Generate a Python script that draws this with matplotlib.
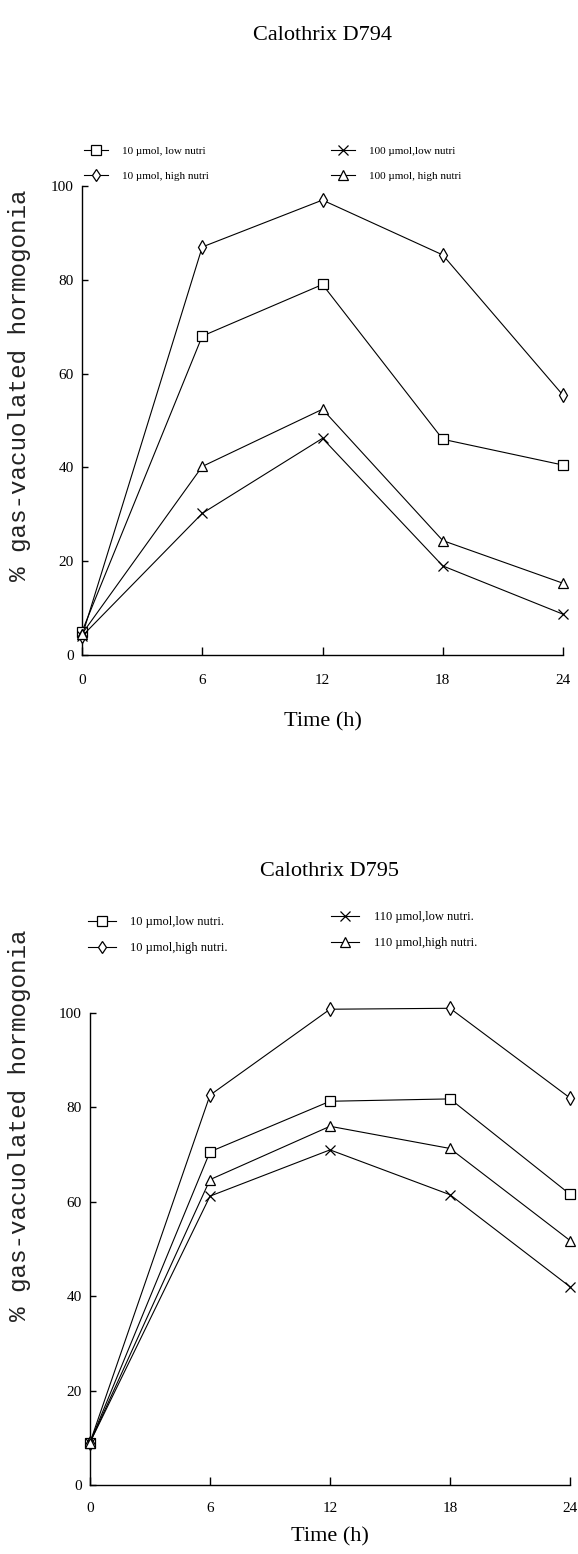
import matplotlib
matplotlib.use("Agg")
import matplotlib.pyplot as plt

# ---------------- data ----------------
time_h = [0, 6, 12, 18, 24]
x_ticks = [0, 6, 12, 18, 24]
y_ticks = [0, 20, 40, 60, 80, 100]

# Calothrix D794
d794_title = "Calothrix D794"
d794_labels = ["10 \u00b5mol, low nutri", "10 \u00b5mol, high nutri",
               "100 \u00b5mol,low nutri", "100 \u00b5mol, high nutri"]
d794_10_low = [5, 68, 79, 46, 40.5]
d794_10_high = [4, 87, 97, 85.3, 55.4]
d794_100_low = [4, 30.2, 46.2, 19, 8.7]
d794_100_high = [4.5, 40.2, 52.4, 24.4, 15.3]

# Calothrix D795
d795_title = "Calothrix D795"
d795_labels = ["10 \u00b5mol,low nutri.", "10 \u00b5mol,high nutri.",
               "110 \u00b5mol,low nutri.", "110 \u00b5mol,high nutri."]
d795_10_low = [9, 70.6, 81.3, 81.8, 61.6]
d795_10_high = [9, 82.6, 100.8, 101, 82]
d795_110_low = [9, 61.2, 71, 61.5, 42]
d795_110_high = [9, 64.7, 76, 71.3, 51.8]

ylabel = "% gas-vacuolated hormogonia"
xlabel = "Time (h)"

markers = ["s", "d", "x", "^"]
msizes = [6.5, 7, 7, 7.5]

SERIF = "Liberation Serif"
MONO = "Liberation Mono"

W, H = 578, 1554
fig = plt.figure(figsize=(W / 100, H / 100), dpi=100)


def frac_x(px):
    return px / W


def frac_y(py):
    return 1 - py / H


def make_panel(x0, x24, y0, y100, series, labels, title, title_y, leg_rows,
               leg_x, leg_fs, leg_space, ylab_y, xt_pad, xlab_y):
    ax = fig.add_axes([frac_x(x0), frac_y(y0), frac_x(x24) - frac_x(x0),
                       frac_y(y100) - frac_y(y0)])
    handles = []
    for vals, m, ms, lab in zip(series, markers, msizes, labels):
        ln, = ax.plot(time_h, vals, color="black", lw=0.8, marker=m, ms=ms,
                      mfc="white", mec="black", mew=0.9, clip_on=False,
                      label=lab, zorder=3)
        handles.append(ln)
    ax.set_xlim(0, 24)
    ax.set_ylim(0, 100)
    for s in ["top", "right"]:
        ax.spines[s].set_visible(False)
    for s in ["left", "bottom"]:
        ax.spines[s].set_linewidth(1.0)
    ax.set_xticks(x_ticks)
    ax.set_yticks(y_ticks)
    ax.tick_params(axis="x", direction="in", length=6, width=1.0,
                   pad=xt_pad, labelsize=11)
    ax.tick_params(axis="y", direction="in", length=4, width=1.0,
                   pad=6, labelsize=11)
    for t in ax.get_xticklabels() + ax.get_yticklabels():
        t.set_fontfamily(SERIF)
    fig.text(frac_x((x0 + x24) / 2), frac_y(title_y), title,
             family=SERIF, fontsize=16, ha="center", va="center")
    fig.text(frac_x((x0 + x24) / 2), frac_y(xlab_y), xlabel,
             family=SERIF, fontsize=16, ha="center", va="center")
    fig.text(frac_x(20), frac_y(ylab_y), ylabel, family=MONO, fontsize=17.5,
             rotation=90, ha="center", va="center", color="#222222")
    # legends (two columns)
    for col in range(2):
        hs = handles[col * 2:col * 2 + 2]
        leg = fig.legend(handles=hs, labels=[h.get_label() for h in hs],
                         loc="upper left",
                         bbox_to_anchor=(frac_x(leg_x[col]), frac_y(leg_rows[col])),
                         frameon=False, handlelength=2.2, handletextpad=1.2,
                         labelspacing=leg_space, borderpad=0, borderaxespad=0,
                         prop={"family": SERIF, "size": leg_fs})
        for lh in leg.legend_handles:
            lh.set_markersize(6.5)
    return ax


make_panel(82, 563, 655, 186,
           [d794_10_low, d794_10_high, d794_100_low, d794_100_high],
           d794_labels, d794_title, 35, [146, 146], [84, 331], 8, 1.35,
           385, 14, 722)

make_panel(90, 570, 1485, 1013,
           [d795_10_low, d795_10_high, d795_110_low, d795_110_high],
           d795_labels, d795_title, 872, [916, 911], [88, 331], 9, 1.15,
           1125, 12, 1537)

fig.savefig("out.png", dpi=100)
